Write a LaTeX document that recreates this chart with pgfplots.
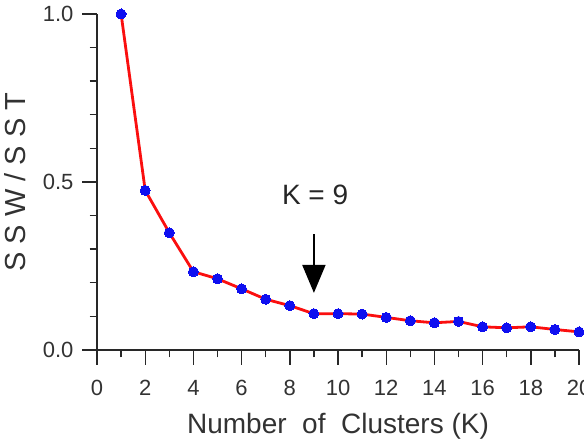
\documentclass[border=0pt]{standalone}
\usepackage{pgfplots}
\pgfplotsset{compat=1.18}
\usepackage{fontspec}
\setmainfont{Liberation Sans}
\usetikzlibrary{arrows.meta}
\definecolor{axisgray}{RGB}{40,40,40}
\definecolor{textgray}{RGB}{50,50,50}
\definecolor{curvered}{RGB}{250,15,15}
\definecolor{dotblue}{RGB}{15,15,240}

\pgfplotstableread{
k ratio
1 1.000
2 0.475
3 0.349
4 0.233
5 0.212
6 0.182
7 0.151
8 0.132
9 0.108
10 0.108
11 0.107
12 0.097
13 0.087
14 0.081
15 0.085
16 0.069
17 0.066
18 0.069
19 0.061
20 0.054
}\sswsst

\begin{document}
\begin{tikzpicture}[x=1bp,y=1bp]
\begin{axis}[
  at={(97bp,89bp)}, anchor=south west,
  scale only axis, width=482bp, height=336bp,
  xmin=0, xmax=20, ymin=0, ymax=1,
  axis lines=left,
  axis line style={-, line width=1.6bp, axisgray},
  xtick={0,2,...,20}, minor xtick={1,3,...,19},
  ytick={0,0.5,1}, minor ytick={0.1,0.2,0.3,0.4,0.6,0.7,0.8,0.9},
  tick align=outside, tick pos=left,
  major tick length=15bp, minor tick length=7.5bp,
  tick style={line width=1.4bp, axisgray},
  /pgf/number format/assume math mode=true,
  yticklabel style={xshift=-5bp, /pgf/number format/fixed,
    /pgf/number format/fixed zerofill, /pgf/number format/precision=1},
  ticklabel style={font=\fontsize{22bp}{26bp}\selectfont, text=textgray},
  xticklabel style={yshift=-12bp},
  xlabel={Number\ \ of\ \ Clusters (K)},
  ylabel={S S W / S S T},
  xlabel style={font=\fontsize{28bp}{32bp}\selectfont, text=textgray, yshift=-10bp},
  ylabel style={font=\fontsize{29bp}{33bp}\selectfont, text=textgray, yshift=10bp},
  clip=false,
]
\addplot[curvered, line width=2.8bp, mark=*, mark size=5bp,
  mark options={draw=dotblue, fill=dotblue, line width=0pt}] table[x=k, y=ratio] {\sswsst};
\draw[-{Triangle[length=28bp,width=23bp]}, line width=2bp, black]
  (axis cs:9,0.345) -- (axis cs:9,0.17);
\node[anchor=base, font=\fontsize{28bp}{32bp}\selectfont, text=black!85]
  at (axis cs:9.05,0.432) {K = 9};
\end{axis}
\pgfresetboundingbox
\useasboundingbox (0,0) rectangle (584,439);
\end{tikzpicture}
\end{document}
